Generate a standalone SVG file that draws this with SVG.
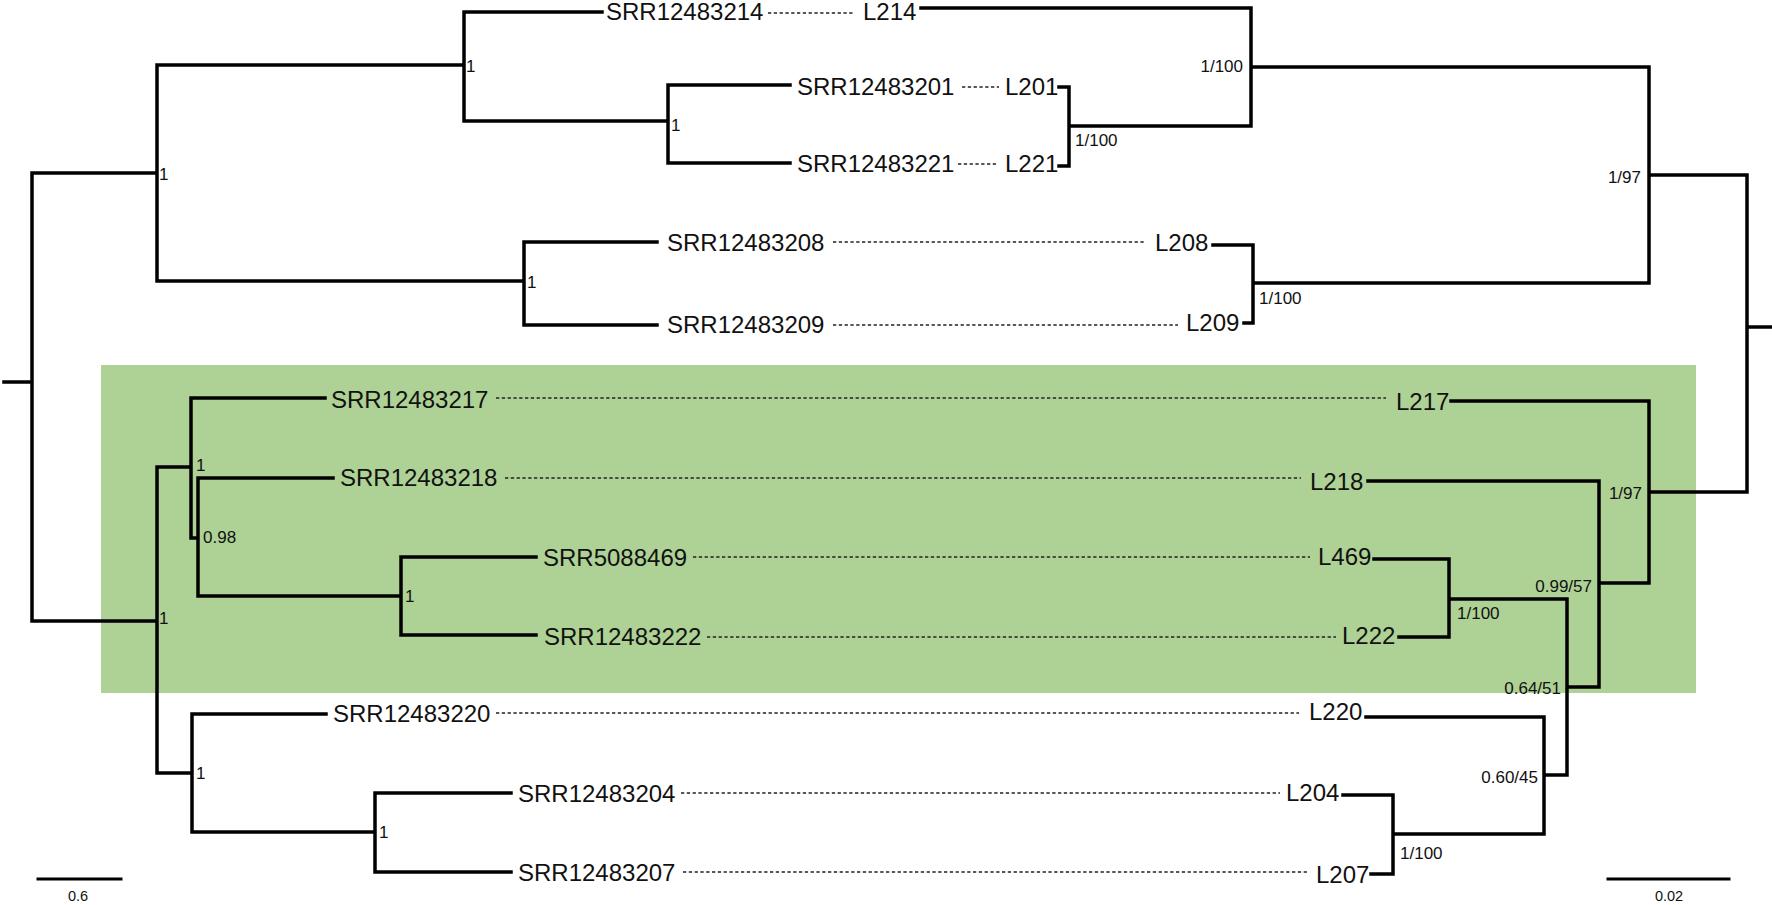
<svg xmlns="http://www.w3.org/2000/svg" width="1772" height="905" viewBox="0 0 1772 905">
<style>
.br{stroke:#000;stroke-width:3.5;fill:none;stroke-linecap:square;stroke-linejoin:miter}
.dot{stroke:#222;stroke-width:1.6;fill:none;stroke-dasharray:3.3 2.5}
.tx{font-family:"Liberation Sans",Arial,sans-serif;font-size:24px;fill:#111}
.sv{font-family:"Liberation Sans",Arial,sans-serif;font-size:17px;fill:#111}
.sc{font-family:"Liberation Sans",Arial,sans-serif;font-size:14.5px;fill:#111;text-anchor:middle}
.e{text-anchor:end}
</style>
<rect id="clade-highlight" x="101" y="365" width="1595" height="328" fill="#aed195"/>
<g id="connectors">
<path class="br" d="M4,382H32M32,173V621M32,173H157M157,65V281M157,65H464M464,12V121M464,12H602M464,121H668M668,85V163M668,85H790M668,163H790M157,281H524M524,242V325M524,242H657M524,325H657M32,621H157M157,467V773M157,467H191M191,398V538M191,398H325M191,538H198M198,478V596M198,478H333M198,596H401M401,557V635M401,557H536M401,635H536M157,773H192M192,714V832M192,714H326M192,832H375M375,793V872M375,793H511M375,872H511"/>
<path class="br" d="M921,8H1251V126M1069,126H1251M1059,87H1069V166H1059M1251,67H1649M1649,67V283H1253M1213,245H1253V323H1244M1649,175H1747V492H1649M1747,327H1772M1451,401H1649V583H1599M1368,481H1599V687H1567M1374,559H1449V637H1399M1449,599H1567V775H1544M1366,717H1544V834H1393M1343,795H1393V874H1371"/>
<path class="br" d="M38,879H121M1608,879H1729" style="stroke-width:3"/>
<g class="dot-lines">
<path class="dot" d="M768,13H855M962,87H999M958,164H996M833,242H1145M833,325H1178M496,398H1386M505,478H1301M693,557H1310M707,637H1336M496,713H1299M681,793H1280M683,872H1308"/>
</g>
</g>
<g id="left-taxa">
<g id="t-SRR12483214"><text class="tx" x="606" y="20">SRR12483214</text></g>
<g id="t-SRR12483201"><text class="tx" x="797" y="95">SRR12483201</text></g>
<g id="t-SRR12483221"><text class="tx" x="797" y="172">SRR12483221</text></g>
<g id="t-SRR12483208"><text class="tx" x="667" y="251">SRR12483208</text></g>
<g id="t-SRR12483209"><text class="tx" x="667" y="333">SRR12483209</text></g>
<g id="t-SRR12483217"><text class="tx" x="331" y="408">SRR12483217</text></g>
<g id="t-SRR12483218"><text class="tx" x="340" y="486">SRR12483218</text></g>
<g id="t-SRR5088469"><text class="tx" x="543" y="566">SRR5088469</text></g>
<g id="t-SRR12483222"><text class="tx" x="544" y="645">SRR12483222</text></g>
<g id="t-SRR12483220"><text class="tx" x="333" y="722">SRR12483220</text></g>
<g id="t-SRR12483204"><text class="tx" x="518" y="802">SRR12483204</text></g>
<g id="t-SRR12483207"><text class="tx" x="518" y="881">SRR12483207</text></g>
</g>
<g id="right-taxa">
<g id="t-L214"><text class="tx" x="863" y="20">L214</text></g>
<g id="t-L201"><text class="tx" x="1005" y="95">L201</text></g>
<g id="t-L221"><text class="tx" x="1005" y="172">L221</text></g>
<g id="t-L208"><text class="tx" x="1155" y="251">L208</text></g>
<g id="t-L209"><text class="tx" x="1186" y="331">L209</text></g>
<g id="t-L217"><text class="tx" x="1396" y="410">L217</text></g>
<g id="t-L218"><text class="tx" x="1310" y="490">L218</text></g>
<g id="t-L469"><text class="tx" x="1318" y="565">L469</text></g>
<g id="t-L222"><text class="tx" x="1342" y="644">L222</text></g>
<g id="t-L220"><text class="tx" x="1309" y="720">L220</text></g>
<g id="t-L204"><text class="tx" x="1286" y="801">L204</text></g>
<g id="t-L207"><text class="tx" x="1316" y="883">L207</text></g>
</g>
<g id="left-support">
<text class="sv" x="159" y="180">1</text>
<text class="sv" x="466" y="72">1</text>
<text class="sv" x="671" y="131">1</text>
<text class="sv" x="527" y="288">1</text>
<text class="sv" x="159" y="624">1</text>
<text class="sv" x="196" y="471">1</text>
<text class="sv" x="203" y="543">0.98</text>
<text class="sv" x="405" y="602">1</text>
<text class="sv" x="196" y="779">1</text>
<text class="sv" x="379" y="838">1</text>
</g>
<g id="right-support">
<text class="sv e" x="1243" y="72">1/100</text>
<text class="sv" x="1075" y="146">1/100</text>
<text class="sv e" x="1641" y="183">1/97</text>
<text class="sv" x="1259" y="304">1/100</text>
<text class="sv e" x="1642" y="499">1/97</text>
<text class="sv e" x="1592" y="592">0.99/57</text>
<text class="sv" x="1457" y="619">1/100</text>
<text class="sv e" x="1561" y="694">0.64/51</text>
<text class="sv e" x="1538" y="783">0.60/45</text>
<text class="sv" x="1400" y="859">1/100</text>
</g>
<g id="scale-bars">
<text class="sc" x="78" y="901">0.6</text>
<text class="sc" x="1669" y="901">0.02</text>
</g>
</svg>
